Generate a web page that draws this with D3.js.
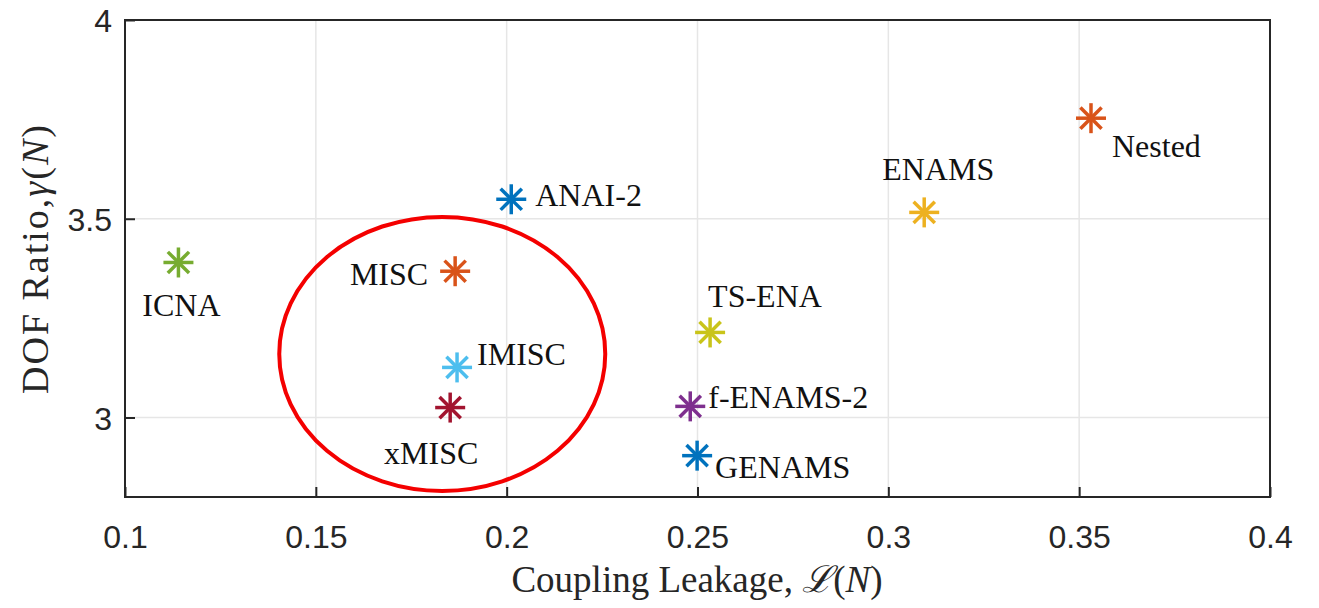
<!DOCTYPE html>
<html>
<head>
<meta charset="utf-8">
<script src="https://cdn.jsdelivr.net/npm/d3@7"></script>
<style>
  html, body { margin: 0; padding: 0; background: #fff; }
  svg { display: block; }
</style>
</head>
<body>
<svg id="chart" width="1319" height="608"></svg>
<script>
// Array designs: coupling leakage vs. DOF ratio
const names   = ["ICNA", "MISC", "IMISC", "xMISC", "ANAI-2", "TS-ENA", "f-ENAMS-2", "GENAMS", "ENAMS", "Nested"];
const leakage = [0.114, 0.1865, 0.187, 0.1852, 0.2012, 0.2533, 0.2481, 0.2499, 0.3094, 0.3531];
const dofRatio = [3.390, 3.368, 3.126, 3.025, 3.549, 3.214, 3.028, 2.904, 3.516, 3.753];
const colors  = ["#77AC30", "#D95319", "#4DBEEE", "#A2142F", "#0072BD", "#C9C41A", "#7E2F8E", "#0072BD", "#EDB120", "#D95319"];

const xTicks = [0.1, 0.15, 0.2, 0.25, 0.3, 0.35, 0.4];
const yTicks = [3, 3.5, 4];
const xTickLabels = ["0.1", "0.15", "0.2", "0.25", "0.3", "0.35", "0.4"];
const yTickLabels = ["3", "3.5", "4"];

// label placement relative to each marker: [dx, dy, text-anchor]
const labelPlace = [
  [3, 54, "middle"],
  [-27, 14, "end"],
  [20, -2, "start"],
  [-19, 56, "middle"],
  [24, 7, "start"],
  [-2, -25, "start"],
  [18, 2, "start"],
  [18, 22, "start"],
  [14, -32, "middle"],
  [21, 39, "start"]
];

(function () {
const svg = d3.select("#chart");
const mLeft = 125, mRight = 1270, mTop = 20, mBottom = 497;

const x = d3.scaleLinear().domain([0.1, 0.4]).range([mLeft, mRight]);
const y = d3.scaleLinear().domain([2.8, 4]).range([mBottom, mTop]);

// grid
const grid = svg.append("g");
grid.selectAll("line.gx").data(xTicks.slice(1, -1)).join("line")
  .attr("x1", d => x(d)).attr("x2", d => x(d))
  .attr("y1", mTop).attr("y2", mBottom)
  .attr("stroke", "#e6e6e6").attr("stroke-width", 1.5);
grid.selectAll("line.gy").data(yTicks.slice(0, -1)).join("line")
  .attr("y1", d => y(d)).attr("y2", d => y(d))
  .attr("x1", mLeft).attr("x2", mRight)
  .attr("stroke", "#e6e6e6").attr("stroke-width", 1.5);

// axes with inward ticks
const xAxis = d3.axisBottom(x).tickValues(xTicks).tickFormat((d, i) => xTickLabels[i])
  .tickSizeInner(-10).tickSizeOuter(0).tickPadding(28);
const yAxis = d3.axisLeft(y).tickValues(yTicks).tickFormat((d, i) => yTickLabels[i])
  .tickSizeInner(-10).tickSizeOuter(0).tickPadding(13);

const gx = svg.append("g").attr("transform", `translate(0,${mBottom})`).call(xAxis);
const gy = svg.append("g").attr("transform", `translate(${mLeft},0)`).call(yAxis);
[gx, gy].forEach(g => {
  g.select(".domain").remove();
  g.selectAll(".tick line").attr("stroke", "#262626").attr("stroke-width", 2);
  g.selectAll(".tick text").attr("fill", "#262626")
    .style("font-family", "'Liberation Sans', Arial, sans-serif").style("font-size", "32px");
});
gx.selectAll(".tick text").attr("dy", "0.71em");
gy.selectAll(".tick text").attr("dy", "0.36em");

// axes box
svg.append("rect")
  .attr("x", mLeft).attr("y", mTop).attr("width", mRight - mLeft).attr("height", mBottom - mTop)
  .attr("fill", "none").attr("stroke", "#262626").attr("stroke-width", 2);

// asterisk markers
const r = 15;
const spokes = [[1, 0], [0, 1], [0.7071, 0.7071], [0.7071, -0.7071]];
const pts = svg.append("g").selectAll("g").data(names).join("g")
  .attr("transform", (d, i) => `translate(${x(leakage[i])},${y(dofRatio[i])})`);
pts.each(function (d, i) {
  d3.select(this).selectAll("line").data(spokes).join("line")
    .attr("x1", s => -s[0] * r).attr("y1", s => -s[1] * r)
    .attr("x2", s => s[0] * r).attr("y2", s => s[1] * r)
    .attr("stroke", colors[i]).attr("stroke-width", 3.5);
});

// point labels
svg.append("g").selectAll("text").data(names).join("text")
  .attr("x", (d, i) => x(leakage[i]) + labelPlace[i][0])
  .attr("y", (d, i) => y(dofRatio[i]) + labelPlace[i][1])
  .attr("text-anchor", (d, i) => labelPlace[i][2])
  .style("font-family", "'Liberation Serif', 'Times New Roman', serif")
  .style("font-size", "32px")
  .attr("fill", "#111")
  .text(d => d);

// highlight ellipse around the MISC family
svg.append("ellipse")
  .attr("cx", (x(0.15) + x(0.2)) / 2 + 31).attr("cy", y(3.16))
  .attr("rx", 163).attr("ry", 137)
  .attr("fill", "none").attr("stroke", "#f40000").attr("stroke-width", 4);

// axis titles
const serif = "'Liberation Serif', 'Times New Roman', serif";
const xl = svg.append("text")
  .attr("x", 697).attr("y", 592)
  .attr("text-anchor", "middle")
  .style("font-family", serif).style("font-size", "37px").attr("fill", "#262626");
xl.append("tspan").text("Coupling Leakage, ");
xl.append("tspan").style("font-family", "'DejaVu Serif', serif").style("font-style", "italic").text("ℒ");
xl.append("tspan").text("(");
xl.append("tspan").style("font-style", "italic").text("N");
xl.append("tspan").text(")");

const yl = svg.append("text")
  .attr("transform", `translate(48,${(mTop + mBottom) / 2}) rotate(-90)`)
  .attr("text-anchor", "middle")
  .style("font-family", serif).style("font-size", "38px").attr("fill", "#262626")
  .style("letter-spacing", "2px");
yl.append("tspan").text("DOF Ratio,");
yl.append("tspan").style("font-style", "italic").text("γ");
yl.append("tspan").text("(");
yl.append("tspan").style("font-style", "italic").text("N");
yl.append("tspan").text(")");
})();
</script>
</body>
</html>
